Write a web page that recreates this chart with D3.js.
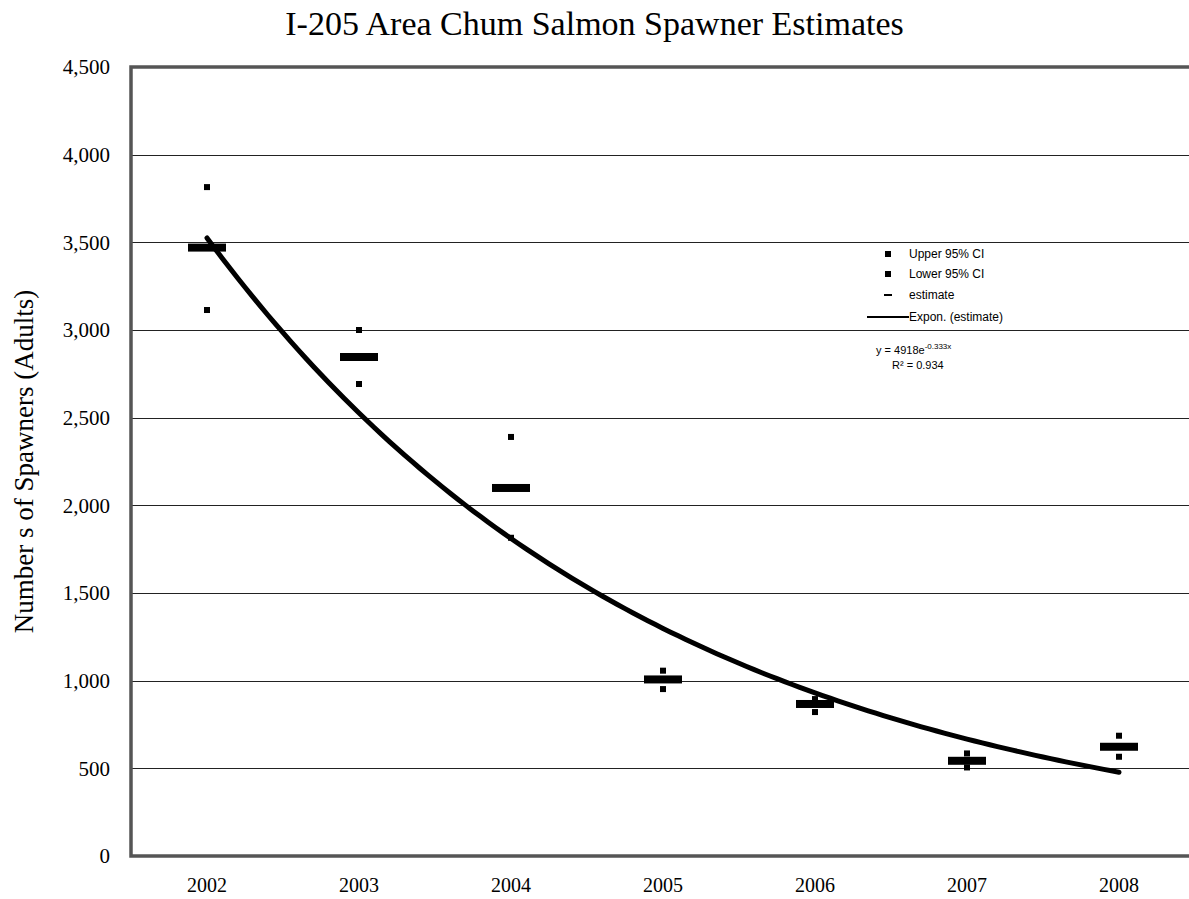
<!DOCTYPE html>
<html>
<head>
<meta charset="utf-8">
<script src="https://cdn.jsdelivr.net/npm/d3@7"></script>
<style>
  body { margin: 0; background: #fff; }
  svg { display: block; }
</style>
</head>
<body>
<div id="chart"></div>
<script>
// data
var years = ["2002", "2003", "2004", "2005", "2006", "2007", "2008"];
var upperCI = [3815, 3000, 2390, 1057, 895, 585, 686];
var lowerCI = [3114, 2692, 1815, 952, 821, 505, 566];
var estimate = [3470, 2846, 2099, 1007, 867, 543, 623];
var yTicks = [0, 500, 1000, 1500, 2000, 2500, 3000, 3500, 4000, 4500];
// fitted trend from the chart: y = 4918 e^(-0.333 x), x = 1..7
var trendCoef = [4918, -0.333];

var W = 1189, H = 899;
var margin = {top: 67, right: -6, bottom: 43, left: 131},
    width = W - margin.left - margin.right,
    height = H - margin.top - margin.bottom;

var serif = "'Liberation Serif', 'Times New Roman', serif";

var svg = d3.select("#chart").append("svg")
    .attr("width", W)
    .attr("height", H);

// title
svg.append("text")
    .attr("x", W / 2)
    .attr("y", 35)
    .attr("text-anchor", "middle")
    .attr("font-family", serif)
    .attr("font-size", "34px")
    .text("I-205 Area Chum Salmon Spawner Estimates");

// y axis label
svg.append("text")
    .attr("transform", "translate(33," + (margin.top + height / 2) + ")rotate(-90)")
    .attr("text-anchor", "middle")
    .attr("font-family", serif)
    .attr("font-size", "27px")
    .text("Number s of Spawners (Adults)");

var g = svg.append("g")
    .attr("transform", "translate(" + margin.left + "," + margin.top + ")");

var x = d3.scaleBand()
    .domain(years)
    .range([0, width]);

var y = d3.scaleLinear()
    .domain([0, 4500])
    .range([height, 0]);

// gridlines
g.append("g")
    .selectAll("line")
    .data(yTicks.filter(function(d) { return d > 0 && d < 4500; }))
    .enter().append("line")
    .attr("x1", 0)
    .attr("x2", width)
    .attr("y1", function(d) { return Math.round(y(d)) + 0.5; })
    .attr("y2", function(d) { return Math.round(y(d)) + 0.5; })
    .attr("stroke", "#222")
    .attr("stroke-width", 1);

// y axis tick labels
var yAxis = g.append("g")
    .call(d3.axisLeft(y).tickValues(yTicks).tickSize(0).tickPadding(21).tickFormat(d3.format(",")))
    .attr("font-family", serif)
    .attr("font-size", "21px");
yAxis.select(".domain").remove();
yAxis.selectAll("text").attr("fill", "#000");

// x axis tick labels
var xAxis = g.append("g")
    .attr("transform", "translate(0," + height + ")")
    .call(d3.axisBottom(x).tickSize(0).tickPadding(22))
    .attr("font-family", serif)
    .attr("font-size", "20px");
xAxis.select(".domain").remove();
xAxis.selectAll("text").attr("fill", "#000");

// plot border (left, bottom, top)
g.append("path")
    .attr("d", "M" + width + ",0H0V" + height + "H" + width)
    .attr("fill", "none")
    .attr("stroke", "#555")
    .attr("stroke-width", 3.5);

var cx = function(i) { return x(years[i]) + x.bandwidth() / 2; };

// estimate bars
g.append("g")
    .selectAll("rect")
    .data(estimate)
    .enter().append("rect")
    .attr("x", function(d, i) { return cx(i) - 19; })
    .attr("y", function(d) { return y(d) - 4; })
    .attr("width", 38)
    .attr("height", 8)
    .attr("fill", "#000");

// upper and lower CI squares
[upperCI, lowerCI].forEach(function(series) {
  g.append("g")
    .selectAll("rect")
    .data(series)
    .enter().append("rect")
    .attr("x", function(d, i) { return cx(i) - 3; })
    .attr("y", function(d) { return y(d) - 3; })
    .attr("width", 6)
    .attr("height", 6)
    .attr("fill", "#000");
});

// exponential trend line
var trendPts = d3.range(1, 7.001, 0.05);
g.append("path")
    .datum(trendPts)
    .attr("fill", "none")
    .attr("stroke", "#000")
    .attr("stroke-width", 5)
    .attr("stroke-linecap", "round")
    .attr("d", d3.line()
      .x(function(t) { return cx(0) + (t - 1) * x.step(); })
      .y(function(t) { return y(trendCoef[0] * Math.exp(trendCoef[1] * t)); }));

// legend
var legend = svg.append("g")
    .attr("font-family", "'Liberation Sans', Arial, sans-serif")
    .attr("font-size", "12px");

var legendItems = ["Upper 95% CI", "Lower 95% CI", "estimate", "Expon. (estimate)"];
var legendY = [254, 274, 295, 317];

legendItems.forEach(function(name, i) {
  var ly = legendY[i];
  if (i < 2) {
    legend.append("rect").attr("x", 885).attr("y", ly - 3).attr("width", 6).attr("height", 6).attr("fill", "#000");
  } else if (i == 2) {
    legend.append("rect").attr("x", 884).attr("y", ly - 1).attr("width", 8).attr("height", 2).attr("fill", "#000");
  } else {
    legend.append("line").attr("x1", 867).attr("x2", 909).attr("y1", ly).attr("y2", ly)
      .attr("stroke", "#000").attr("stroke-width", 2);
  }
  legend.append("text")
    .attr("x", 909)
    .attr("y", ly + 4)
    .text(name);
});

// equation label
var eq = svg.append("g")
    .attr("font-family", "'Liberation Sans', Arial, sans-serif")
    .attr("font-size", "11px");
var eqText = eq.append("text").attr("x", 876).attr("y", 354);
eqText.append("tspan").text("y = " + trendCoef[0] + "e");
eqText.append("tspan").attr("dy", -5).attr("font-size", "8px").text(trendCoef[1] + "x");
eq.append("text").attr("x", 892).attr("y", 369).text("R\u00B2 = 0.934");
</script>
</body>
</html>
